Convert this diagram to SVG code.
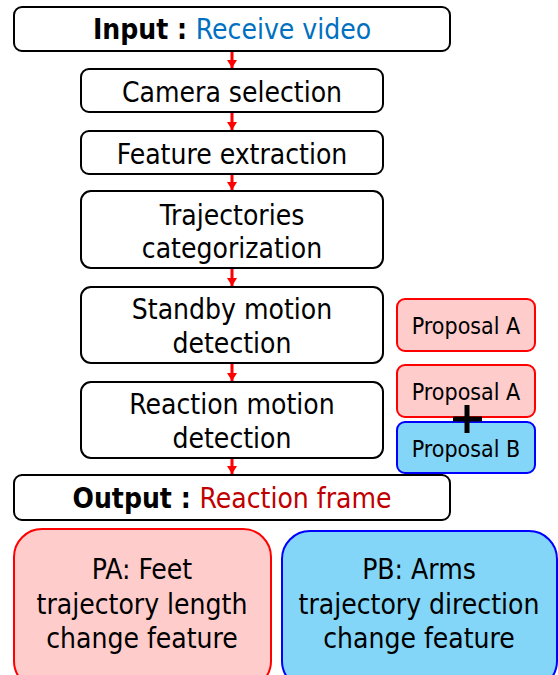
<svg xmlns="http://www.w3.org/2000/svg" width="558" height="675" viewBox="0 0 558 675">
<defs>
<style>
.box{fill:#fff;stroke:#000;stroke-width:2}
.pa{fill:#FFCCCC;stroke:#FF0000;stroke-width:2}
.pb{fill:#83D6F7;stroke:#0000FF;stroke-width:2}
text{font-family:"DejaVu Sans Condensed","DejaVu Sans",sans-serif;font-stretch:condensed;font-size:28px;fill:#000;text-anchor:middle}
.sm{font-size:23px}
.b{font-weight:bold}
.arr{stroke:#FF0000;stroke-width:3;fill:none}
</style>
<marker id="ah" viewBox="0 0 8 10" refX="8" refY="5" markerWidth="8" markerHeight="10" orient="auto" markerUnits="userSpaceOnUse">
<path d="M0,0 L8,5 L0,10 z" fill="#FF0000"/>
</marker>
</defs>
<g id="connectors">
<line class="arr" x1="232" y1="52" x2="232" y2="68" marker-end="url(#ah)"/>
<line class="arr" x1="232" y1="113" x2="232" y2="130" marker-end="url(#ah)"/>
<line class="arr" x1="232" y1="175" x2="232" y2="190" marker-end="url(#ah)"/>
<line class="arr" x1="232" y1="269" x2="232" y2="286" marker-end="url(#ah)"/>
<line class="arr" x1="232" y1="364" x2="232" y2="381" marker-end="url(#ah)"/>
<line class="arr" x1="232" y1="459" x2="232" y2="474" marker-end="url(#ah)"/>
</g>
<g id="input">
<rect class="box" x="14" y="7" width="436" height="44" rx="8"/>
<text x="232" y="39"><tspan class="b">Input : </tspan><tspan fill="#0070C0">Receive video</tspan></text>
</g>
<g id="camera">
<rect class="box" x="81" y="69" width="302" height="43" rx="8"/>
<text x="232" y="102">Camera selection</text>
</g>
<g id="feature">
<rect class="box" x="81" y="131" width="302" height="43" rx="8"/>
<text x="232" y="164">Feature extraction</text>
</g>
<g id="trajectories">
<rect class="box" x="81" y="191" width="302" height="77" rx="10"/>
<text x="232" y="225">Trajectories</text>
<text x="232" y="258">categorization</text>
</g>
<g id="standby">
<rect class="box" x="81" y="287" width="302" height="76" rx="10"/>
<text x="232" y="319">Standby motion</text>
<text x="232" y="353">detection</text>
</g>
<g id="reaction">
<rect class="box" x="81" y="382" width="302" height="76" rx="10"/>
<text x="232" y="414">Reaction motion</text>
<text x="232" y="448">detection</text>
</g>
<g id="output">
<rect class="box" x="14" y="475" width="436" height="45" rx="8"/>
<text x="232" y="508"><tspan class="b">Output : </tspan><tspan fill="#C00000">Reaction frame</tspan></text>
</g>
<g id="proposalA1">
<rect class="pa" x="397" y="299" width="138" height="52" rx="8"/>
<text class="sm" x="466" y="334">Proposal A</text>
</g>
<g id="proposalA2">
<rect class="pa" x="397" y="365" width="138" height="52" rx="8"/>
<text class="sm" x="466" y="400">Proposal A</text>
</g>
<g id="proposalB">
<rect class="pb" x="397" y="422" width="138" height="51" rx="8"/>
<text class="sm" x="466" y="457">Proposal B</text>
</g>
<g id="plus">
<line x1="453" y1="419" x2="482" y2="419" stroke="#000" stroke-width="5"/>
<line x1="467" y1="405" x2="467" y2="433" stroke="#000" stroke-width="5"/>
</g>
<g id="pa">
<rect class="pa" x="14" y="529" width="257" height="160" rx="28"/>
<text x="142" y="579">PA: Feet</text>
<text x="142" y="614">trajectory length</text>
<text x="142" y="648">change feature</text>
</g>
<g id="pb">
<rect class="pb" x="282" y="531" width="275" height="158" rx="28"/>
<text x="419" y="579">PB: Arms</text>
<text x="419" y="614">trajectory direction</text>
<text x="419" y="648">change feature</text>
</g>
</svg>
